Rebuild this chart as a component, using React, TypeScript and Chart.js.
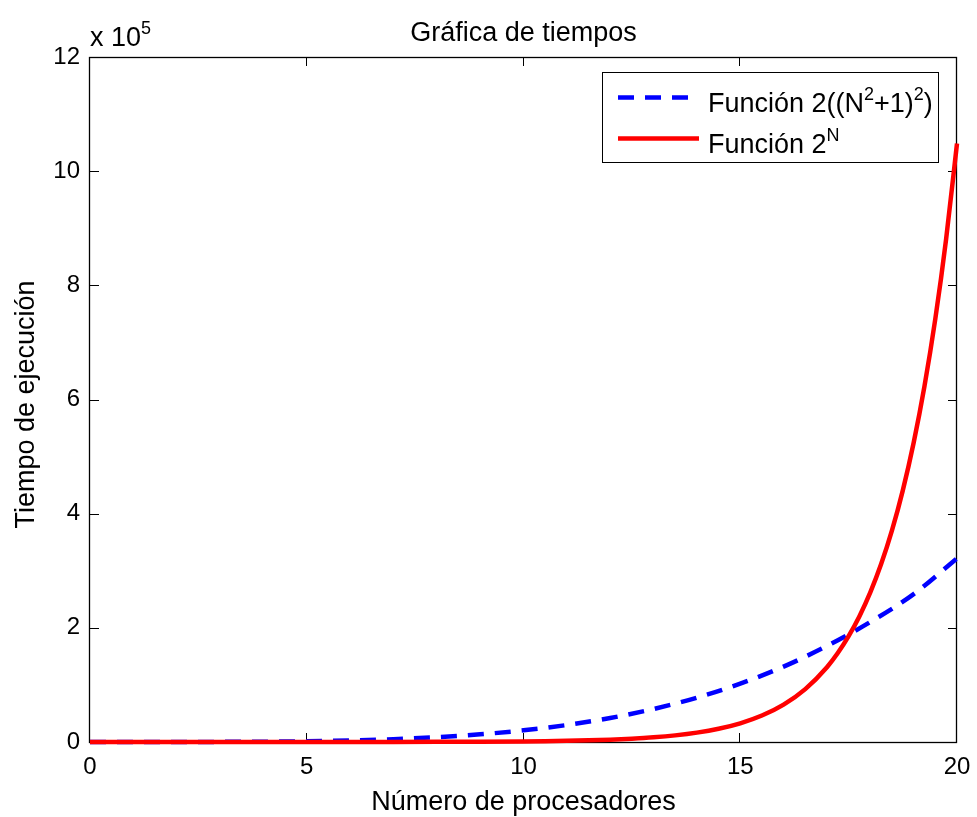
import React, { useEffect, useRef } from "react";
import { Chart, registerables } from "chart.js";

Chart.register(...registerables);

// ---- data ----
const nBlue: number[] = [0, 1, 2, 3, 4, 5, 6, 7, 8, 9, 10, 11, 12, 13, 14, 15, 16, 17, 18, 19, 20];
const funcion1: number[] = [
  2, 8, 50, 200, 578, 1352, 2738, 5000, 8450, 13448, 20402, 29768, 42050, 57800, 77618, 102152,
  132098, 168200, 210250, 259088, 321602,
];
const nRed: number[] = [
  0, 1, 2, 3, 4, 5, 6, 7, 8, 9, 10, 10.5, 11, 11.5, 12, 12.5, 13, 13.5, 14, 14.5, 15, 15.5, 16,
  16.5, 17, 17.25, 17.5, 17.75, 18, 18.25, 18.5, 18.75, 19, 19.25, 19.5, 19.75, 20,
];
const funcion2: number[] = [
  1, 2, 4, 8, 16, 32, 64, 128, 256, 512, 1024, 1448, 2048, 2896, 4096, 5793, 8192, 11585, 16384,
  23170, 32768, 46341, 65536, 92682, 131072, 155872, 185364, 220435, 262144, 311744, 370728,
  440871, 524288, 623487, 741455, 881743, 1048576,
];
const xTicks: number[] = [0, 5, 10, 15, 20];
const yTicks: number[] = [0, 2, 4, 6, 8, 10, 12]; // in units of 10^5
const yExponent = 5;

const titleText = "Gráfica de tiempos";
const xLabelText = "Número de procesadores";
const yLabelText = "Tiempo de ejecución";

type Seg = { t: string; sup?: boolean };
const legend1: Seg[] = [
  { t: "Función 2((N" },
  { t: "2", sup: true },
  { t: "+1)" },
  { t: "2", sup: true },
  { t: ")" },
];
const legend2: Seg[] = [{ t: "Función 2" }, { t: "N", sup: true }];

const FF = '"Liberation Sans", Arial, Helvetica, sans-serif';
const FS = 27; // labels, title, legend
const TFS = 24; // tick labels
const SUP = 18;

function drawRich(ctx: CanvasRenderingContext2D, segs: Seg[], x: number, y: number) {
  let cx = x;
  ctx.textAlign = "left";
  ctx.textBaseline = "alphabetic";
  for (const s of segs) {
    ctx.font = `${s.sup ? SUP : FS}px ${FF}`;
    ctx.fillText(s.t, cx, s.sup ? y - 12 : y);
    cx += ctx.measureText(s.t).width;
  }
}

const framePlugin = {
  id: "matlabFrame",
  beforeDatasetsDraw(chart: any) {
    const { ctx, chartArea: a, scales } = chart;
    const xs = scales.x;
    const ys = scales.y;
    ctx.save();
    ctx.strokeStyle = "#000";
    ctx.lineWidth = 1.3;
    ctx.strokeRect(a.left - 0.5, a.top + 0.5, a.right - a.left, a.bottom - a.top);
    const tl = 9;
    ctx.beginPath();
    for (const v of xTicks) {
      const px = Math.round(xs.getPixelForValue(v)) - 0.5;
      ctx.moveTo(px, a.bottom);
      ctx.lineTo(px, a.bottom - tl);
      ctx.moveTo(px, a.top);
      ctx.lineTo(px, a.top + tl);
    }
    for (const v of yTicks) {
      const py = Math.round(ys.getPixelForValue(v * Math.pow(10, yExponent))) + 0.5;
      ctx.moveTo(a.left, py);
      ctx.lineTo(a.left + tl, py);
      ctx.moveTo(a.right, py);
      ctx.lineTo(a.right - tl, py);
    }
    ctx.lineWidth = 1;
    ctx.stroke();
    ctx.restore();
  },
  afterDraw(chart: any) {
    const { ctx, chartArea: a } = chart;
    ctx.save();
    ctx.fillStyle = "#000";
    // title
    ctx.font = `${FS}px ${FF}`;
    ctx.textAlign = "center";
    ctx.textBaseline = "alphabetic";
    ctx.fillText(titleText, (a.left + a.right) / 2, 41);
    // x label
    ctx.fillText(xLabelText, (a.left + a.right) / 2, 810);
    // y label
    ctx.save();
    ctx.translate(34, (a.top + a.bottom) / 2 + 5);
    ctx.rotate(-Math.PI / 2);
    ctx.fillText(yLabelText, 0, 0);
    ctx.restore();
    // exponent
    drawRich(ctx, [{ t: "x 10" }, { t: String(yExponent), sup: true }], a.left, 46);

    // legend
    const lx = 602.5, ly = 72.5, lw = 336, lh = 90;
    ctx.fillStyle = "#fff";
    ctx.fillRect(lx, ly, lw, lh);
    ctx.strokeStyle = "#000";
    ctx.lineWidth = 1;
    ctx.strokeRect(lx, ly, lw, lh);
    const ds = chart.data.datasets;
    const rows: { segs: Seg[]; y: number; ds: any }[] = [
      { segs: legend1, y: 97.5, ds: ds[0] },
      { segs: legend2, y: 138.5, ds: ds[1] },
    ];
    for (const r of rows) {
      ctx.beginPath();
      ctx.strokeStyle = r.ds.borderColor;
      ctx.lineWidth = r.ds.borderWidth;
      ctx.lineCap = "butt";
      ctx.setLineDash(r.ds.borderDash || []);
      ctx.moveTo(618, r.y);
      ctx.lineTo(699, r.y);
      ctx.stroke();
      ctx.setLineDash([]);
      ctx.fillStyle = "#000";
      drawRich(ctx, r.segs, 708, r.y + 14.5);
    }
    ctx.restore();
  },
};

export default function App() {
  const ref = useRef<HTMLCanvasElement | null>(null);

  useEffect(() => {
    document.body.style.margin = "0";
    const canvas = ref.current!;
    const chart = new Chart(canvas, {
      type: "line",
      data: {
        datasets: [
          {
            label: "Función 2((N²+1)²)",
            data: nBlue.map((n, i) => ({ x: n, y: funcion1[i] })),
            borderColor: "#0000ff",
            borderWidth: 4.5,
            borderDash: [16, 11],
            borderCapStyle: "butt",
            pointRadius: 0,
            cubicInterpolationMode: "monotone",
            fill: false,
            order: 2,
            clip: 4,
          },
          {
            label: "Función 2ᴺ",
            data: nRed.map((n, i) => ({ x: n, y: funcion2[i] })),
            borderColor: "#ff0000",
            borderWidth: 4.5,
            pointRadius: 0,
            cubicInterpolationMode: "monotone",
            fill: false,
            order: 1,
            clip: 4,
          },
        ] as any,
      },
      options: {
        animation: false,
        responsive: false,
        devicePixelRatio: 1,
        layout: { padding: { top: 57, right: 20, left: 0, bottom: 0 } },
        plugins: {
          legend: { display: false },
          title: { display: false },
          tooltip: { enabled: false },
        },
        scales: {
          x: {
            type: "linear",
            min: 0,
            max: 20,
            afterBuildTicks: (s: any) => {
              s.ticks = xTicks.map((v) => ({ value: v }));
            },
            afterFit: (s: any) => {
              s.height = 75;
              s.paddingLeft = 0;
              s.paddingRight = 0;
            },
            grid: { display: false, drawTicks: false },
            border: { display: false },
            ticks: {
              padding: 11,
              maxRotation: 0,
              autoSkip: false,
              color: "#000",
              font: { family: FF, size: TFS },
              callback: (v: any) => String(v),
            },
          },
          y: {
            type: "linear",
            min: 0,
            max: 12 * Math.pow(10, yExponent),
            afterBuildTicks: (s: any) => {
              s.ticks = yTicks.map((v) => ({ value: v * Math.pow(10, yExponent) }));
            },
            afterFit: (s: any) => {
              s.width = 90;
              s.paddingTop = 0;
              s.paddingBottom = 0;
            },
            grid: { display: false, drawTicks: false },
            border: { display: false },
            ticks: {
              padding: 10,
              autoSkip: false,
              color: "#000",
              font: { family: FF, size: TFS },
              callback: (v: any) =>
                String(Math.round((Number(v) / Math.pow(10, yExponent)) * 100) / 100),
            },
          },
        },
      } as any,
      plugins: [framePlugin],
    });
    return () => chart.destroy();
  }, []);

  return (
    <canvas
      ref={ref}
      width={977}
      height={817}
      style={{ display: "block", width: 977, height: 817 }}
    />
  );
}
